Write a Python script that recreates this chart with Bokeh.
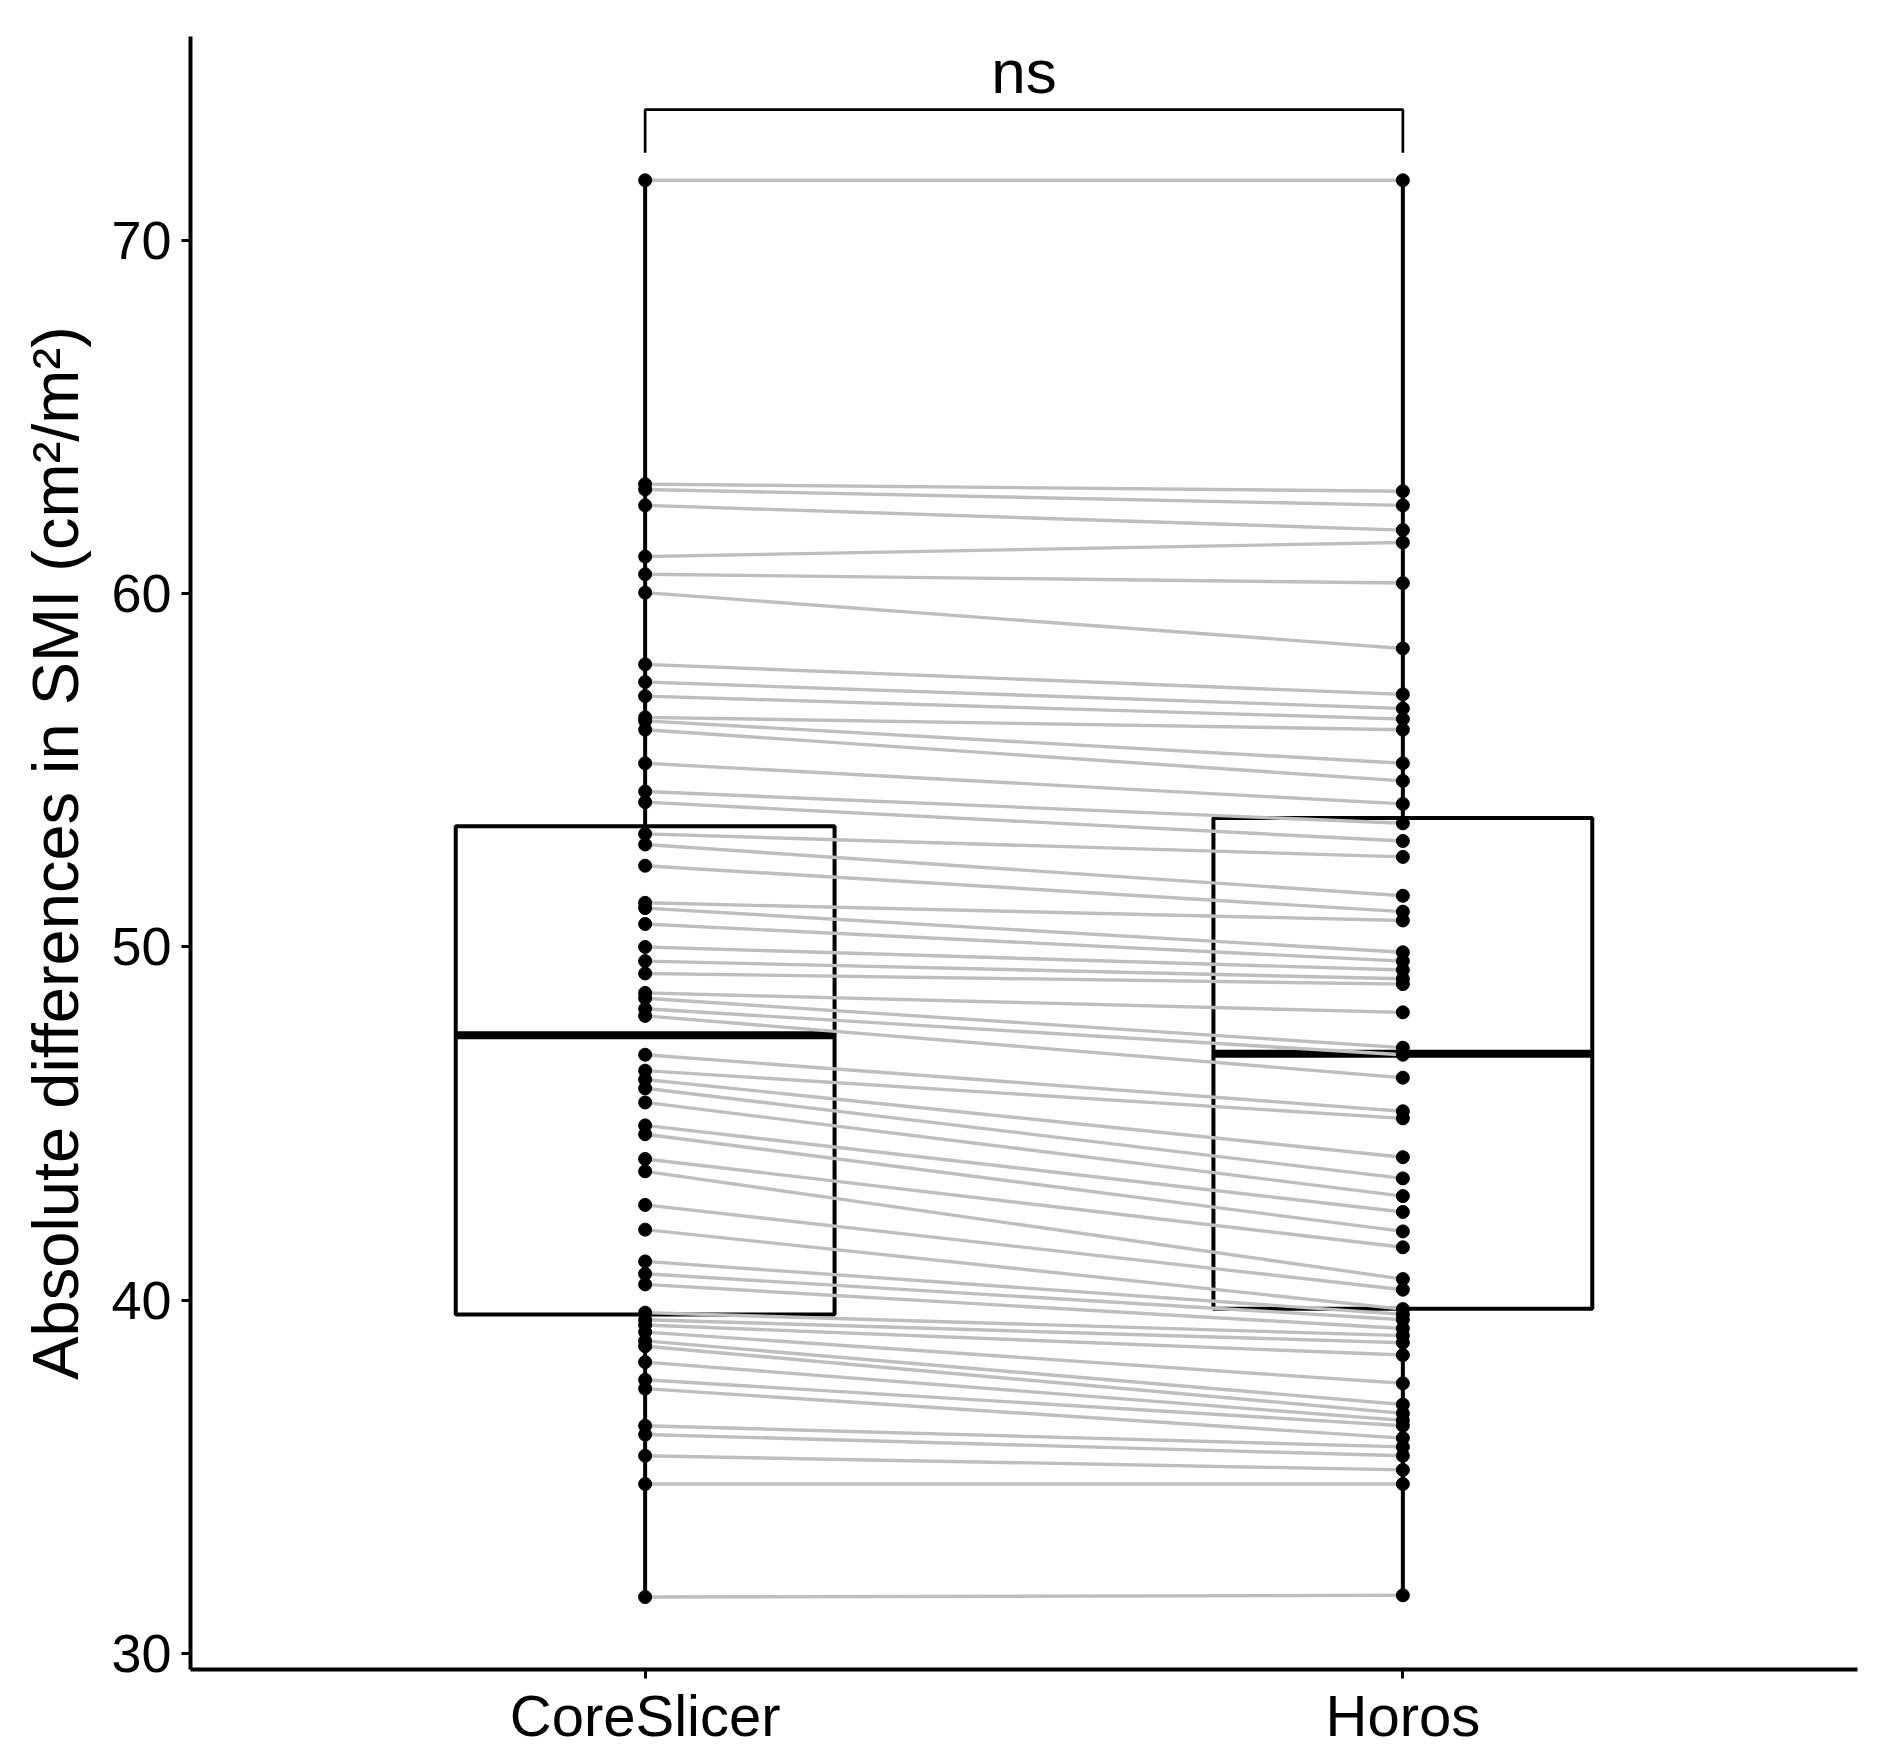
from bokeh.plotting import figure
from bokeh.models import FixedTicker, Range1d
from bokeh.core.properties import value
from bokeh.embed import file_html
from bokeh.resources import INLINE

# ---- data ----
groups = ["CoreSlicer", "Horos"]
coreslicer = [71.7, 63.1, 62.95, 62.5, 61.05, 60.55, 60.03, 58.0, 57.5, 57.1,
              56.5, 56.4, 56.15, 55.2, 54.4, 54.1, 53.2, 52.9, 52.3, 51.25,
              51.1, 50.65, 50.0, 49.6, 49.25, 48.7, 48.55, 48.25, 48.05, 46.95,
              46.5, 46.25, 46.0, 45.6, 44.95, 44.7, 44.0, 43.65, 42.7, 42.0,
              41.1, 40.75, 40.45, 39.65, 39.45, 39.3, 39.1, 38.85, 38.7, 38.25,
              37.75, 37.5, 36.45, 36.2, 35.6, 34.8, 31.6]
horos = [71.7, 62.9, 62.5, 61.8, 61.45, 60.3, 58.45, 57.15, 56.75, 56.45,
         56.15, 55.2, 54.7, 54.05, 53.5, 53.0, 52.55, 51.45, 51.0, 50.75,
         49.85, 49.6, 49.35, 49.1, 48.95, 48.15, 47.15, 46.95, 46.3, 45.35,
         45.15, 44.05, 43.45, 42.95, 42.5, 41.95, 41.5, 40.6, 40.3, 39.75,
         39.6, 39.45, 39.2, 39.0, 38.8, 38.45, 37.65, 37.05, 36.8, 36.6,
         36.45, 36.1, 35.85, 35.6, 35.2, 34.8, 31.65]
box_q1 = [39.6, 39.76]
box_median = [47.5, 46.98]
box_q3 = [53.42, 53.65]
whisker_low = [31.6, 31.65]
whisker_high = [71.7, 71.7]
y_ticks = [30, 40, 50, 60, 70]
sig_label = "ns"

FONT = "Liberation Sans"
xpos = [1, 2]
half_w = 0.25

p = figure(frame_width=1667, frame_height=1633,
           x_range=Range1d(0.4, 2.6), y_range=Range1d(29.55, 75.77),
           output_backend="svg", toolbar_location=None,
           min_border_left=190, min_border_top=36,
           min_border_right=30, min_border_bottom=40)
p.background_fill_color = "white"
p.border_fill_color = "white"
p.outline_line_color = None
p.xgrid.visible = False
p.ygrid.visible = False

# boxes
p.quad(left=[x - half_w for x in xpos], right=[x + half_w for x in xpos],
       bottom=box_q1, top=box_q3, fill_color="white",
       line_color="black", line_width=4)
p.segment(x0=[x - half_w for x in xpos], x1=[x + half_w for x in xpos],
          y0=box_median, y1=box_median, line_color="black", line_width=8)
p.segment(x0=xpos, x1=xpos, y0=box_q3, y1=whisker_high,
          line_color="black", line_width=4)
p.segment(x0=xpos, x1=xpos, y0=whisker_low, y1=box_q1,
          line_color="black", line_width=4)

# paired lines
n = len(coreslicer)
p.segment(x0=[1] * n, x1=[2] * n, y0=coreslicer, y1=horos,
          line_color="#BEBEBE", line_width=3.4)

# points
p.scatter(x=[1] * n, y=coreslicer, size=13, color="black")
p.scatter(x=[2] * n, y=horos, size=13, color="black")

# significance bracket
top_y = 73.7
tip_y = 72.48
p.line(x=[1, 1, 2, 2], y=[tip_y, top_y, top_y, tip_y],
       line_color="black", line_width=2.7)
p.text(x=[1.5], y=[74.77], text=[sig_label], text_font=value(FONT),
       text_font_size="62px", text_align="center",
       text_baseline="alphabetic", text_color="black")

# axes
p.xaxis.ticker = FixedTicker(ticks=xpos)
p.xaxis.major_label_overrides = {1: groups[0], 2: groups[1]}
p.yaxis.ticker = FixedTicker(ticks=y_ticks)
for ax in (p.xaxis[0], p.yaxis[0]):
    ax.axis_line_width = 4
    ax.axis_line_color = "black"
    ax.major_tick_line_width = 3
    ax.major_tick_line_color = "black"
    ax.major_tick_out = 9
    ax.major_tick_in = 0
    ax.minor_tick_line_color = None
    ax.major_label_text_font = FONT
    ax.major_label_text_color = "black"
p.xaxis.major_label_text_font_size = "58px"
p.yaxis.major_label_text_font_size = "54px"
p.xaxis.major_label_standoff = 4
p.yaxis.major_label_standoff = 10
p.yaxis.axis_label = "Absolute differences in SMI (cm²/m²)"
p.yaxis.axis_label_text_font = FONT
p.yaxis.axis_label_text_font_size = "65px"
p.yaxis.axis_label_text_font_style = "normal"
p.yaxis.axis_label_text_color = "black"
p.yaxis.axis_label_standoff = 16

open("out.html", "w").write(file_html(p, INLINE))
